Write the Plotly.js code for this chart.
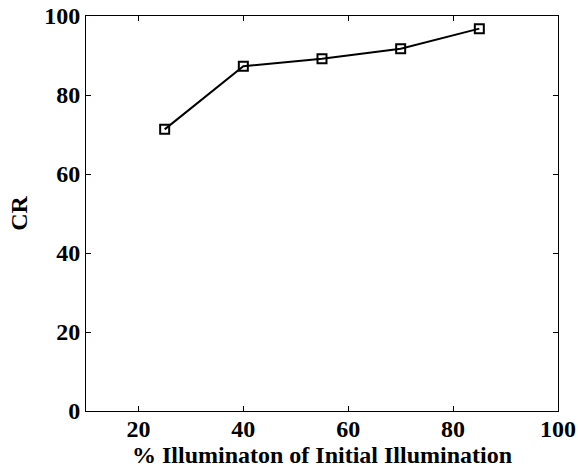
<!DOCTYPE html>
<html>
<head>
<meta charset="utf-8">
<script src="https://cdn.plot.ly/plotly-3.0.1.min.js"></script>
<style>html,body{margin:0;padding:0;background:#fff;}#chart{width:578px;height:472px;}</style>
</head>
<body>
<div id="chart"></div>
<script>
const illumination = [25, 40, 55, 70, 85];
const crValues = [71.3, 87.3, 89.2, 91.7, 96.8];
const xTicks = [20, 40, 60, 80, 100];
const yTicks = [0, 20, 40, 60, 80, 100];

const fontFamily = 'Liberation Serif, Times New Roman, serif';

const trace = {
  x: illumination,
  y: crValues,
  type: 'scatter',
  mode: 'lines+markers',
  line: {color: '#000', width: 2},
  marker: {symbol: 'square-open', size: 9, color: '#000', line: {width: 2, color: '#000'}},
  showlegend: false
};

const axisCommon = {
  showgrid: false,
  zeroline: false,
  showline: true,
  mirror: 'ticks',
  linecolor: '#000',
  linewidth: 1,
  ticks: 'inside',
  ticklen: 5,
  tickwidth: 1,
  tickcolor: '#000',
  tickfont: {family: fontFamily, size: 24, color: '#000', weight: 'bold'}
};

const layout = {
  width: 578,
  height: 472,
  margin: {l: 86, r: 20, t: 16, b: 61},
  paper_bgcolor: '#fff',
  plot_bgcolor: '#fff',
  font: {family: fontFamily, color: '#000'},
  xaxis: Object.assign({}, axisCommon, {
    range: [10, 100],
    tickvals: xTicks,
    ticktext: xTicks.map(String),
    ticklabelstandoff: -4,
    title: {text: '% Illuminaton of Initial Illumination', standoff: 0,
      font: {family: fontFamily, size: 24, color: '#000', weight: 'bold'}}
  }),
  yaxis: Object.assign({}, axisCommon, {
    range: [0, 100],
    tickvals: yTicks,
    ticktext: yTicks.map(String),
    title: {text: 'CR', standoff: 9,
      font: {family: fontFamily, size: 24, color: '#000', weight: 'bold'}}
  })
};

Plotly.newPlot('chart', [trace], layout, {displayModeBar: false, staticPlot: true});
</script>
</body>
</html>
